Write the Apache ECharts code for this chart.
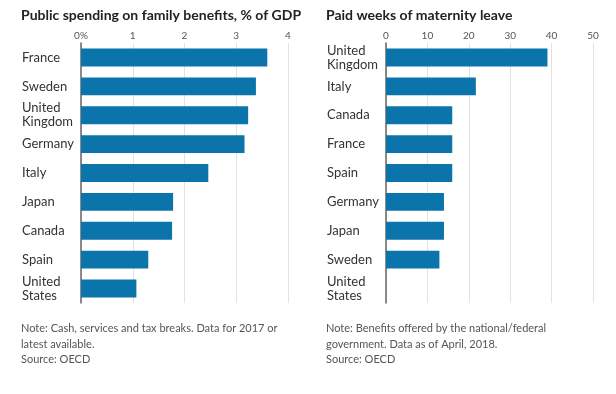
<!DOCTYPE html>
<html><head><meta charset="utf-8">
<script src="https://cdn.jsdelivr.net/npm/echarts@6/dist/echarts.min.js"></script>
<style>html,body{margin:0;padding:0;background:#fff}#c{width:616px;height:394px}</style>
</head><body><div id="c"></div>
<script>
const spendCategories = ['France','Sweden','United\nKingdom','Germany','Italy','Japan','Canada','Spain','United\nStates'];
const spendValues = [3.6, 3.38, 3.23, 3.16, 2.46, 1.78, 1.76, 1.3, 1.07];
const spendTicks = [0, 1, 2, 3, 4];
const leaveCategories = ['United\nKingdom','Italy','Canada','France','Spain','Germany','Japan','Sweden','United\nStates'];
const leaveValues = [39, 21.7, 16, 16, 16, 14, 14, 12.9, 0];
const leaveTicks = [0, 10, 20, 30, 40, 50];
const titleLeft = 'Public spending on family benefits, % of GDP';
const titleRight = 'Paid weeks of maternity leave';
const noteLeft = 'Note: Cash, services and tax breaks. Data for 2017 or\nlatest available.\nSource: OECD';
const noteRight = 'Note: Benefits offered by the national/federal\ngovernment. Data as of April, 2018.\nSource: OECD';

const FONT = 'Lato';
const BAR = '#0a74ab';
const chart = echarts.init(document.getElementById('c'));

function xAxisCfg(idx, ticks, pct) {
  return {
    gridIndex: idx, type: 'value', position: 'top',
    min: ticks[0], max: ticks[ticks.length-1], interval: ticks[1]-ticks[0],
    axisLine: {show: false}, axisTick: {show: false},
    splitLine: {show: true, lineStyle: {color: '#e2e2e2', width: 1}},
    axisLabel: {color: '#555', fontFamily: FONT, fontSize: 10, margin: 2,
      formatter: v => (pct && v === 0) ? '0%' : String(v)}
  };
}
function yAxisCfg(idx, cats) {
  return {
    gridIndex: idx, type: 'category', inverse: true, data: cats,
    axisLine: {show: true, lineStyle: {color: '#666', width: 1.5}},
    axisTick: {show: false},
    axisLabel: {color: '#333', fontFamily: FONT, fontSize: 13, align: 'left', margin: 59, lineHeight: 14}
  };
}
chart.setOption({
  animation: false,
  textStyle: {fontFamily: FONT},
  title: [
    {text: titleLeft, left: 21, top: 8, padding: 0, textStyle: {fontFamily: FONT, fontWeight: 'bold', fontSize: 14, color: '#222'}},
    {text: titleRight, left: 326, top: 8, padding: 0, textStyle: {fontFamily: FONT, fontWeight: 'bold', fontSize: 14, color: '#222'}},
    {text: noteLeft, left: 21, top: 321, padding: 0, textStyle: {fontFamily: FONT, fontWeight: 'normal', fontSize: 11, lineHeight: 15.5, color: '#555'}},
    {text: noteRight, left: 326, top: 321, padding: 0, textStyle: {fontFamily: FONT, fontWeight: 'normal', fontSize: 11, lineHeight: 15.5, color: '#555'}}
  ],
  grid: [
    {left: 81, right: 328, top: 43, bottom: 91},
    {left: 386, right: 23, top: 43, bottom: 91}
  ],
  xAxis: [xAxisCfg(0, spendTicks, true), xAxisCfg(1, leaveTicks, false)],
  yAxis: [yAxisCfg(0, spendCategories), yAxisCfg(1, leaveCategories)],
  series: [
    {type: 'bar', xAxisIndex: 0, yAxisIndex: 0, data: spendValues, barWidth: '62%', itemStyle: {color: BAR}},
    {type: 'bar', xAxisIndex: 1, yAxisIndex: 1, data: leaveValues, barWidth: '62%', itemStyle: {color: BAR}}
  ]
});
</script></body></html>
